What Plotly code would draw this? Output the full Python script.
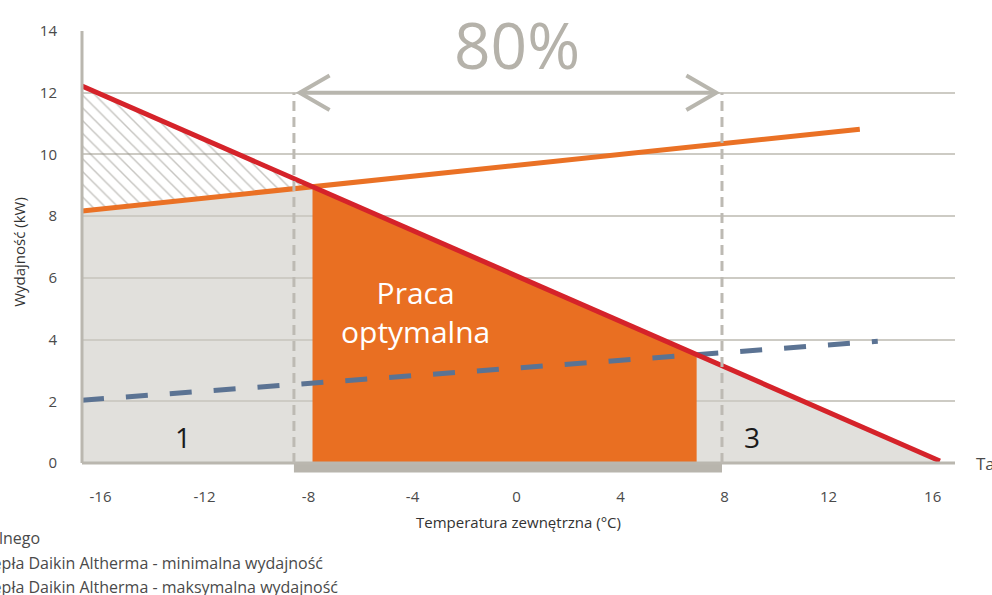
import numpy as np
import plotly.graph_objects as go

# Axis ticks
temp_ticks = [-16, -12, -8, -4, 0, 4, 8, 12, 16]
temp_labels = ["-16", "-12", "-8", "-4", "0", "4", "8", "12", "16"]
kw_ticks = [0, 2, 4, 6, 8, 10, 12, 14]

# Building heat demand (kW) vs outdoor temperature
demand_t = [-16.71, 16.28]
demand_kw = [12.22, 0.07]
# Heat pump maximum capacity
max_t = [-16.71, 13.2]
max_kw = [8.17, 10.82]
# Heat pump minimum capacity
min_t = [-16.71, 13.89]
min_kw = [2.04, 3.95]

# 80 % band bounds (temperature) and its level (kW)
band_t = [-8.56, 7.9]
band_kw = 12
band_label = "80%"

# Zone numbers
zone_names = ["1", "3"]
zone_t = [-12.83, 9.05]
zone_kw = [0.85, 0.85]

legend_lines = [
    "Zapotrzebowanie na ciepło budynku mieszkalnego",
    "Pompa ciepła Daikin Altherma - minimalna wydajność",
    "Pompa ciepła Daikin Altherma - maksymalna wydajność",
]

X_RANGE = [-16.71, 16.86]
Y_RANGE = [-0.32, 14]

FONT = "Open Sans"
RED = "#d5232a"
ORANGE_LINE = "#ea7125"
ORANGE_FILL = "#e96f22"
BLUE = "#5b7393"
LIGHT = "#e1e0dc"
GREY = "#bab7af"
TEXT = "#4a4a4a"


def line_at(ts, ks, t):
    slope = (ks[1] - ks[0]) / (ts[1] - ts[0])
    return ks[0] + slope * (t - ts[0])


def crossing(a_t, a_k, b_t, b_k):
    sa = (a_k[1] - a_k[0]) / (a_t[1] - a_t[0])
    sb = (b_k[1] - b_k[0]) / (b_t[1] - b_t[0])
    ia = a_k[0] - sa * a_t[0]
    ib = b_k[0] - sb * b_t[0]
    return (ib - ia) / (sa - sb)


opt_lo = crossing(demand_t, demand_kw, max_t, max_kw)
opt_hi = crossing(demand_t, demand_kw, min_t, min_kw)
t0 = demand_t[0]

fig = go.Figure()

# Hatched area: demand above pump maximum
hx = [t0, t0, opt_lo, t0]
hy = [line_at(max_t, max_kw, t0), line_at(demand_t, demand_kw, t0),
      line_at(demand_t, demand_kw, opt_lo), line_at(max_t, max_kw, t0)]
fig.add_trace(go.Scatter(
    x=hx, y=hy, mode="lines", fill="toself", line=dict(width=0),
    fillcolor="rgba(0,0,0,0)",
    fillpattern=dict(shape="\\", fgcolor="#8e8b84", bgcolor="rgba(0,0,0,0)",
                     size=9, solidity=0.16, fillmode="overlay"),
    hoverinfo="skip", showlegend=False))

# Optimal operation area
ox = [opt_lo, opt_lo, opt_hi, opt_hi, opt_lo]
oy = [0, line_at(demand_t, demand_kw, opt_lo),
      line_at(demand_t, demand_kw, opt_hi), 0, 0]
fig.add_trace(go.Scatter(
    x=ox, y=oy, mode="lines", fill="toself", fillcolor=ORANGE_FILL,
    line=dict(width=0), hoverinfo="skip", showlegend=False))

fig.add_trace(go.Scatter(
    x=min_t, y=min_kw, mode="lines", name=legend_lines[1],
    line=dict(color=BLUE, width=5, dash="22px,22px"), showlegend=False))
fig.add_trace(go.Scatter(
    x=max_t, y=max_kw, mode="lines", name=legend_lines[2],
    line=dict(color=ORANGE_LINE, width=5), showlegend=False))
fig.add_trace(go.Scatter(
    x=demand_t, y=demand_kw, mode="lines", name=legend_lines[0],
    line=dict(color=RED, width=5), showlegend=False))

shapes = []
# Light grey area under demand / pump maximum (beneath gridlines)
gpts = [(t0, 0), (t0, line_at(max_t, max_kw, t0)),
        (opt_lo, line_at(demand_t, demand_kw, opt_lo)),
        (demand_t[1], demand_kw[1]), (demand_t[1], 0)]
gpath = "M " + " L ".join(f"{x},{y}" for x, y in gpts) + " Z"
shapes.append(dict(type="path", path=gpath, xref="x", yref="y",
                   fillcolor=LIGHT, line=dict(width=0), layer="below"))

# Base bar under the 80 % band
shapes.append(dict(type="rect", xref="x", yref="y", x0=band_t[0], x1=band_t[1],
                   y0=-0.3, y1=0, fillcolor="#b8b5ad", line=dict(width=0),
                   layer="above"))
# Axis lines
shapes.append(dict(type="line", xref="x", yref="y", x0=X_RANGE[0], x1=X_RANGE[1],
                   y0=0, y1=0, line=dict(color=GREY, width=3), layer="above"))
shapes.append(dict(type="line", xref="paper", yref="y", x0=0, x1=0,
                   y0=0, y1=14, line=dict(color=GREY, width=3), layer="above"))
# Dashed band bounds
for bt in band_t:
    shapes.append(dict(type="line", xref="x", yref="y", x0=bt, x1=bt,
                       y0=0, y1=band_kw,
                       line=dict(color="#bdbab3", width=3, dash="10px,6px"),
                       layer="above"))
# Double-headed arrow
inset, head_dx, head_dy = 0.22, 1.15, 0.56
a_lo, a_hi = band_t[0] + inset, band_t[1] - inset
arrow_style = dict(color="#b8b6ae", width=4)
shapes.append(dict(type="line", xref="x", yref="y", x0=a_lo, x1=a_hi,
                   y0=band_kw, y1=band_kw, line=arrow_style, layer="above"))
for tip, d in ((a_lo, 1), (a_hi, -1)):
    p = (f"M {tip + d * head_dx},{band_kw + head_dy} L {tip},{band_kw} "
         f"L {tip + d * head_dx},{band_kw - head_dy}")
    shapes.append(dict(type="path", path=p, xref="x", yref="y",
                       line=arrow_style, layer="above"))

annotations = [
    dict(x=0.0, y=13.55, xref="x", yref="y", text=band_label, showarrow=False,
         font=dict(family=FONT, size=64, color="#b5b2aa"), yanchor="middle"),
    dict(x=-3.87, y=4.9, xref="x", yref="y", text="Praca<br>optymalna",
         showarrow=False, font=dict(family=FONT, size=30, color="white"),
         yanchor="middle"),
    dict(x=1.022, y=0, xref="paper", yref="y", text="Ta", showarrow=False,
         xanchor="left", yanchor="middle",
         font=dict(family=FONT, size=17, color=TEXT)),
]
for name, zt, zk in zip(zone_names, zone_t, zone_kw):
    annotations.append(dict(x=zt, y=zk, xref="x", yref="y", text=name,
                            showarrow=False,
                            font=dict(family=FONT, size=28, color="#1a1a1a")))

legend_right = [42, 325, 340]
legend_y = [538, 563, 587]
for txt, rx, ly in zip(legend_lines, legend_right, legend_y):
    annotations.append(dict(
        x=(rx - 82) / 873, y=(473 - ly) / 442, xref="paper", yref="paper",
        text=txt, showarrow=False, xanchor="right", yanchor="middle",
        font=dict(family=FONT, size=16, color=TEXT)))

fig.update_layout(
    width=992, height=595,
    margin=dict(l=82, r=37, t=31, b=122),
    paper_bgcolor="white", plot_bgcolor="white",
    font=dict(family=FONT, size=15, color=TEXT),
    showlegend=False,
    shapes=shapes, annotations=annotations,
    xaxis=dict(range=X_RANGE, tickvals=temp_ticks, ticktext=temp_labels,
               showgrid=False,
               zeroline=False, showline=False, ticks="outside", ticklen=10,
               tickcolor="rgba(0,0,0,0)", tickfont=dict(size=15, color=TEXT),
               title=dict(text="Temperatura zewnętrzna (°C)", standoff=12,
                          font=dict(size=15, color="#333"))),
    yaxis=dict(range=Y_RANGE, tickvals=kw_ticks, showgrid=True,
               gridcolor="#cdcbc4", gridwidth=1.5, zeroline=False,
               showline=False, ticks="outside", ticklen=21,
               tickcolor="rgba(0,0,0,0)", tickfont=dict(size=15, color=TEXT),
               title=dict(text="Wydajność (kW)", standoff=10,
                          font=dict(size=15, color="#333"))),
)

fig.write_html("out.html")
